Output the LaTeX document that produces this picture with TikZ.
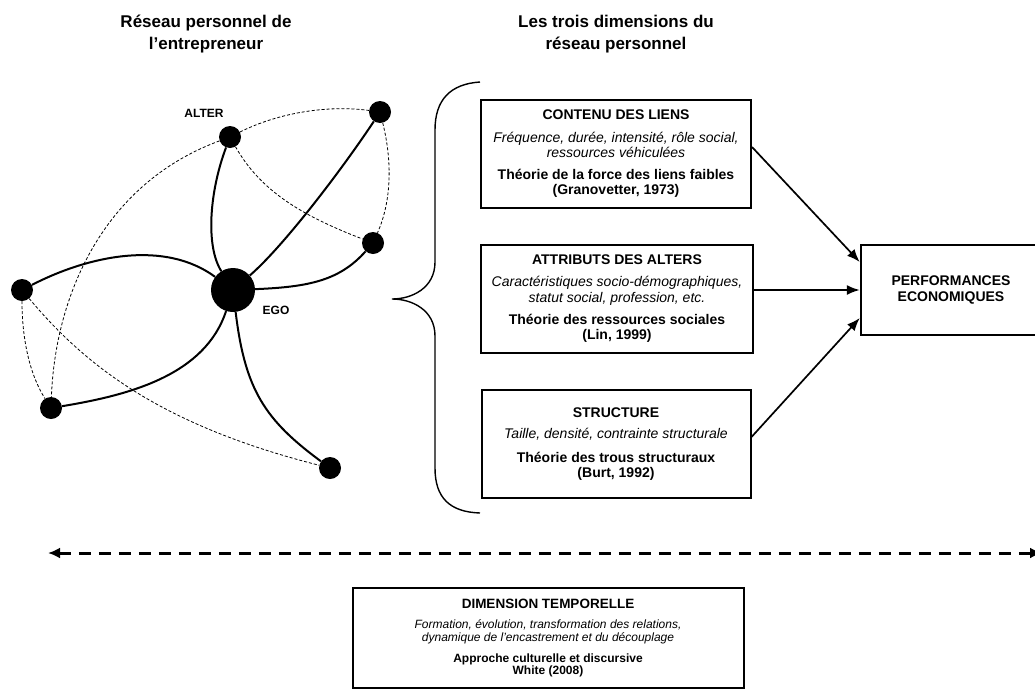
\documentclass[tikz,border=0pt]{standalone}
\usepackage{fontspec}
\setmainfont{Liberation Sans}
\usetikzlibrary{arrows.meta}
\begin{document}
\begin{tikzpicture}[x=1pt,y=-1pt,
  dbox/.style={draw,line width=2pt,rectangle,align=center,inner sep=0pt,
    minimum height=108pt,font=\fontsize{14}{15.5}\selectfont},
  perfbox/.style={draw,line width=2.5pt,rectangle,align=center,inner sep=0pt,
    minimum width=180pt,minimum height=90pt,font=\fontsize{14}{16.5}\selectfont\bfseries},
  tbox/.style={draw,line width=2pt,rectangle,align=center,inner sep=0pt,
    minimum width=391pt,minimum height=100pt,font=\fontsize{12}{13.3}\selectfont},
  header/.style={align=center,inner sep=0pt,font=\fontsize{17}{22}\selectfont\bfseries},
  alterdot/.style={circle,fill=black,inner sep=0pt,minimum size=22pt},
  egodot/.style={circle,fill=black,inner sep=0pt,minimum size=44pt},
  netlabel/.style={inner sep=0pt,font=\fontsize{12}{12}\selectfont\bfseries},
  strong/.style={line width=2pt},
  weak/.style={line width=0.8pt,dash pattern=on 3pt off 2pt},
  conn/.style={line width=1.7pt,-{Latex[length=13pt,width=10pt]}},
  timearrow/.style={line width=3pt,dash pattern=on 12pt off 8pt,
    {Latex[length=12pt,width=11pt]}-{Latex[length=12pt,width=11pt]}},
  bracestyle/.style={line width=1.4pt}
]
\useasboundingbox (0,0) rectangle (1035,699);

% headers
\node[header] (h1) at (206,34) {Réseau personnel de\\l’entrepreneur};
\node[header] (h2) at (616,34) {Les trois dimensions du\\réseau personnel};

% network nodes
\node[egodot] (ego) at (233,290) {};
\node[alterdot] (alt) at (230,137) {};
\node[alterdot] (tr) at (380,112) {};
\node[alterdot] (rt) at (373,243) {};
\node[alterdot] (lf) at (22,290) {};
\node[alterdot] (bl) at (51,408) {};
\node[alterdot] (bt) at (330,468) {};
\node[netlabel] (altlab) at (204,113) {ALTER};
\node[netlabel] (egolab) at (276,310) {EGO};

% strong ties
\draw[strong] (alt) .. controls (210,190) and (205,245) .. (ego);
\draw[strong] (tr) .. controls (345,165) and (285,245) .. (ego);
\draw[strong] (ego) .. controls (310,287) and (340,280) .. (rt);
\draw[strong] (lf) .. controls (90,255) and (165,240) .. (ego);
\draw[strong] (bl) .. controls (130,395) and (205,375) .. (ego);
\draw[strong] (ego) .. controls (245,390) and (265,420) .. (bt);

% weak ties
\draw[weak] (alt) .. controls (280,112) and (330,105) .. (tr);
\draw[weak] (tr) .. controls (392,160) and (392,200) .. (rt);
\draw[weak] (alt) .. controls (260,190) and (300,215) .. (rt);
\draw[weak] (alt) .. controls (100,185) and (55,300) .. (bl);
\draw[weak] (lf) .. controls (22,340) and (30,375) .. (bl);
\draw[weak] (lf) .. controls (85,365) and (160,425) .. (bt);

% brace
\draw[bracestyle] (480,82) .. controls (450,84) and (435,100) .. (435,130)
  -- (435,262) .. controls (435,288) and (412,299) .. (392,299)
  .. controls (412,299) and (435,310) .. (435,336)
  -- (435,468) .. controls (435,498) and (450,512) .. (480,513);

% dimension boxes
\node[dbox,minimum width=270pt] (b1) at (616,154) {%
  \textbf{CONTENU DES LIENS}\\[7pt]
  \textit{Fréquence, durée, intensité, rôle social,}\\
  \textit{ressources véhiculées}\\[6pt]
  \textbf{Théorie de la force des liens faibles}\\
  \textbf{(Granovetter, 1973)}};
\node[dbox,minimum width=272pt] (b2) at (617,299) {%
  \textbf{ATTRIBUTS DES ALTERS}\\[6.5pt]
  \textit{Caractéristiques socio-démographiques,}\\
  \textit{statut social, profession, etc.}\\[6.5pt]
  \textbf{Théorie des ressources sociales}\\
  \textbf{(Lin, 1999)}};
\node[dbox,minimum width=269pt] (b3) at (616,444) {%
  \textbf{STRUCTURE}\\[5.5pt]
  \textit{Taille, densité, contrainte structurale}\\[8.5pt]
  \textbf{Théorie des trous structuraux}\\
  \textbf{(Burt, 1992)}};

% performances
\node[perfbox] (perf) at (951,290) {PERFORMANCES\\ECONOMIQUES};

\draw[conn] ([yshift=7pt]b1.east) -- ([yshift=28pt]perf.west);
\draw[conn] (b2.east |- perf.west) -- (perf.west);
\draw[conn] ([yshift=7pt]b3.east) -- ([yshift=-28pt]perf.west);

% time arrow
\coordinate (tl) at (48,553);
\coordinate (tr2) at (1042,553);
\draw[timearrow] (tl) -- (tr2);

% temporal box
\node[tbox] (tb) at (548,638) {%
  {\fontsize{13.5}{15}\selectfont\bfseries DIMENSION TEMPORELLE}\\[7pt]
  \textit{Formation, évolution, transformation des relations,}\\
  \textit{dynamique de l’encastrement et du découplage}\\[7pt]
  \textbf{Approche culturelle et discursive}\\[-1pt]
  \textbf{White (2008)}};
\end{tikzpicture}
\end{document}
